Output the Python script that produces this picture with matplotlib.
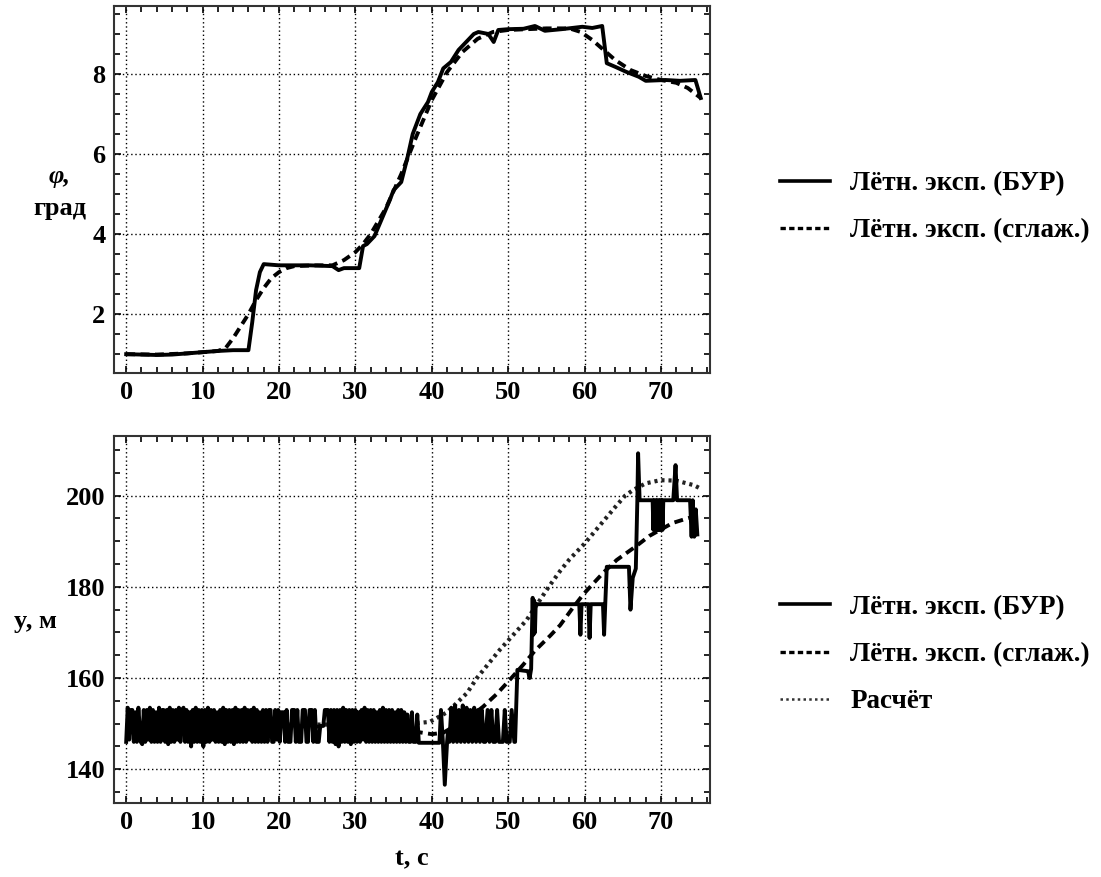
import matplotlib
matplotlib.use("Agg")
import matplotlib.pyplot as plt
from matplotlib.ticker import MultipleLocator
from matplotlib.lines import Line2D

plt.rcParams['font.family'] = ['Liberation Serif', 'DejaVu Serif']
plt.rcParams['font.weight'] = 'bold'

# ---------------- Data: top panel (phi, deg) ----------------
phi_bur_t = [0.0, 2.0, 4.0, 6.0, 8.0, 10.0, 12.0, 14.0, 16.0, 16.5, 17.0, 17.5, 18.0,
             20.0, 24.0, 27.0, 27.8, 28.5, 30.5, 31.0, 31.5, 32.5, 33.5, 34.5, 35.0,
             36.0, 36.8, 37.5, 38.5, 39.5, 40.0, 40.8, 41.5, 42.5, 43.5, 44.5, 45.5,
             46.1, 47.4, 48.1, 48.7, 50.0, 52.0, 53.5, 54.8, 57.0, 59.7, 61.0, 62.3,
             62.9, 64.0, 65.5, 67.1, 68.0, 70.6, 72.5, 74.5, 75.2]
phi_bur_v = [1.00, 0.99, 0.98, 0.99, 1.02, 1.05, 1.08, 1.10, 1.10, 1.80, 2.60, 3.05, 3.25,
             3.22, 3.22, 3.20, 3.10, 3.15, 3.15, 3.70, 3.75, 3.95, 4.40, 4.85, 5.10,
             5.30, 5.90, 6.50, 7.00, 7.30, 7.55, 7.80, 8.14, 8.30, 8.60, 8.80, 9.00,
             9.05, 9.00, 8.80, 9.10, 9.12, 9.13, 9.20, 9.08, 9.12, 9.18, 9.15, 9.20,
             8.27, 8.18, 8.05, 7.93, 7.83, 7.85, 7.83, 7.85, 7.40]

phi_smooth_t = [0.0, 4.0, 8.0, 12.0, 13.0, 14.0, 15.0, 16.0, 17.0, 18.0, 19.0, 20.0,
                21.0, 22.0, 25.0, 27.0, 28.5, 30.0, 31.0, 32.0, 34.0, 36.0, 38.0, 40.0,
                42.0, 44.0, 46.0, 48.0, 50.0, 55.0, 58.0, 59.5, 61.0, 62.5, 64.0, 66.0,
                68.0, 70.0, 72.0, 73.5, 75.2]
phi_smooth_v = [1.00, 0.99, 1.02, 1.08, 1.15, 1.40, 1.70, 2.00, 2.35, 2.65, 2.90, 3.05,
                3.15, 3.20, 3.22, 3.22, 3.35, 3.55, 3.75, 4.00, 4.65, 5.50, 6.45, 7.35,
                8.05, 8.55, 8.88, 9.05, 9.10, 9.14, 9.14, 9.05, 8.85, 8.60, 8.35, 8.10,
                7.95, 7.85, 7.78, 7.65, 7.40]

# ---------------- Data: bottom panel (y, m) ----------------
# BUR record, level-flight part (0 ... 38 s)
y_bur_t_early = [
    0.0, 0.2, 0.4, 0.6, 0.8, 1.0, 1.2, 1.4, 1.6, 1.9, 2.1, 2.3, 2.5, 2.7, 2.9, 3.1, 3.3, 3.5,
    3.7, 3.9, 4.1, 4.3, 4.5, 4.7, 4.9, 5.1, 5.3, 5.5, 5.7, 5.9, 6.1, 6.3, 6.5, 6.7, 6.9, 7.1,
    7.3, 7.5, 7.7, 7.9, 8.1, 8.3, 8.5, 8.7, 8.9, 9.1, 9.3, 9.5, 9.7, 9.9, 10.1, 10.3, 10.5,
    10.7, 10.9, 11.1, 11.3, 11.5, 11.7, 11.9, 12.1, 12.3, 12.5, 12.7, 12.9, 13.1, 13.3, 13.5,
    13.7, 13.9, 14.1, 14.3, 14.5, 14.7, 14.9, 15.1, 15.3, 15.5, 15.7, 15.9, 16.1, 16.3, 16.5,
    16.7, 16.9, 17.1, 17.3, 17.5, 17.7, 17.9, 18.1, 18.3, 18.5, 18.7, 18.9, 19.1, 19.3, 19.5,
    19.7, 19.9, 20.1, 20.3, 20.6, 20.8, 21.0, 21.2, 21.5, 21.7, 22.0, 22.2, 22.4, 22.6, 22.9,
    23.1, 23.4, 23.6, 23.8, 24.0, 24.3, 24.5, 24.7, 24.9, 25.2, 25.4, 25.8, 26.0, 26.4, 26.6,
    26.8, 27.0, 27.2, 27.4, 27.6, 27.8, 28.0, 28.2, 28.4, 28.6, 28.8, 29.0, 29.2, 29.4, 29.6,
    29.8, 30.0, 30.2, 30.4, 30.6, 30.8, 31.0, 31.2, 31.4, 31.6, 31.8, 32.0, 32.2, 32.4, 32.6,
    32.8, 33.0, 33.2, 33.4, 33.6, 33.8, 34.0, 34.2, 34.4, 34.6, 34.8, 35.0, 35.2, 35.4, 35.6,
    35.8, 36.0, 36.2, 36.4, 36.6, 36.8, 37.0, 37.2, 37.4, 37.6, 37.9, 38.1, 38.3]
y_bur_v_early = [
    146.0, 153.5, 146.5, 153.0, 153.0, 146.0, 152.5, 146.0, 153.5, 146.0, 145.5, 153.0, 146.0,
    153.0, 146.5, 153.5, 146.0, 153.0, 146.0, 152.5, 146.0, 153.5, 146.0, 153.0, 153.0, 146.0,
    153.0, 145.5, 153.5, 146.0, 153.0, 146.0, 153.0, 146.5, 153.5, 146.0, 153.0, 153.5, 146.0,
    153.0, 146.0, 152.5, 145.0, 153.0, 146.0, 153.5, 146.0, 153.0, 146.0, 153.0, 145.0, 153.0,
    146.0, 153.5, 146.0, 153.0, 146.5, 153.0, 146.0, 152.5, 146.0, 153.0, 146.0, 153.5, 145.5,
    153.0, 146.0, 153.0, 146.0, 153.0, 145.5, 153.5, 146.0, 153.0, 146.0, 153.0, 146.0, 153.5,
    146.0, 153.0, 146.5, 153.0, 146.0, 153.5, 146.0, 153.0, 146.0, 152.5, 146.0, 153.0, 146.0,
    153.0, 146.0, 153.0, 153.0, 146.0, 146.0, 153.0, 146.5, 153.0, 146.0, 152.5, 152.5, 146.0,
    153.0, 146.0, 146.0, 153.0, 153.0, 146.0, 153.0, 146.0, 146.0, 153.0, 153.0, 146.0, 146.0,
    153.0, 153.0, 146.0, 153.0, 146.0, 146.0, 149.5, 149.5, 153.0, 153.0, 146.0, 153.0, 146.0,
    153.0, 145.5, 153.0, 145.0, 153.0, 146.0, 153.5, 146.0, 153.0, 146.0, 153.0, 145.5, 153.0,
    146.0, 153.0, 146.0, 152.5, 146.0, 153.0, 146.5, 153.5, 146.0, 153.0, 146.0, 153.0, 146.0,
    153.0, 146.0, 152.5, 146.0, 153.0, 146.0, 153.5, 146.0, 153.0, 146.0, 153.0, 146.0, 153.0,
    146.0, 152.5, 146.0, 153.0, 146.0, 153.0, 146.0, 152.5, 146.0, 152.0, 146.0, 146.0, 152.5,
    146.0, 146.0, 152.0, 145.8]
# BUR record, climb part (38 ... 75 s)
y_bur_t_late = [
    41.0, 41.2, 41.45, 41.7, 42.0, 42.1, 42.3, 42.55, 42.8, 43.05, 43.3, 43.55, 43.8, 44.05,
    44.3, 44.55, 44.8, 45.05, 45.3, 45.55, 45.8, 46.05, 46.3, 46.55, 46.8, 47.0, 47.3, 47.55,
    47.8, 48.05, 48.3, 48.55, 48.8, 49.3, 49.55, 49.8, 50.2, 50.45, 50.8, 50.9, 51.2, 52.6,
    52.8, 53.0, 53.2, 53.3, 53.4, 53.5, 53.6, 59.3, 59.45, 59.6, 60.5, 60.65, 60.8, 62.4,
    62.55, 62.7, 62.9, 65.8, 66.0, 66.3, 66.7, 66.9, 67.0, 67.2, 68.9, 69.0, 69.1, 69.2,
    69.3, 69.4, 69.5, 69.6, 69.7, 69.8, 69.9, 70.0, 70.1, 70.2, 70.3, 70.4, 71.6, 71.9,
    72.1, 73.8, 74.0, 74.15, 74.35, 74.55, 74.75]
y_bur_v_late = [
    145.8, 153.0, 146.0, 136.6, 146.0, 148.0, 146.0, 153.5, 146.0, 154.0, 146.0, 153.0, 146.0,
    154.0, 146.0, 153.5, 146.0, 153.0, 146.0, 153.5, 146.0, 153.0, 146.0, 153.0, 146.0, 146.0,
    153.0, 146.0, 153.0, 146.0, 146.0, 153.0, 146.0, 146.0, 153.0, 146.0, 146.0, 153.0, 146.0,
    146.0, 161.8, 161.5, 160.0, 162.0, 177.6, 169.5, 177.0, 170.0, 176.2, 176.2, 169.5, 176.2,
    176.2, 168.8, 176.2, 176.2, 169.5, 176.2, 184.4, 184.4, 175.0, 182.0, 184.0, 199.0, 209.3,
    199.0, 199.0, 192.5, 199.0, 192.5, 199.0, 192.5, 199.0, 192.5, 199.0, 192.5, 199.0, 192.5,
    199.0, 192.5, 199.0, 199.0, 199.0, 206.7, 199.0, 199.0, 191.0, 199.0, 191.0, 197.0, 191.5]

y_smooth_t = [0.0, 10.0, 20.0, 30.0, 35.8, 38.0, 40.0, 41.5, 43.0, 45.0, 46.7, 48.5, 50.2,
              52.0, 53.5, 55.5, 56.8, 58.5, 59.8, 61.0, 62.5, 64.2, 66.8, 68.5, 69.9, 71.5,
              73.4, 74.3]
y_smooth_v = [149.5, 149.5, 149.5, 149.2, 148.6, 148.2, 147.7, 148.0, 149.5, 151.5, 153.7,
              156.5, 159.6, 163.0, 166.0, 169.3, 171.6, 175.5, 178.3, 180.5, 183.2, 185.9,
              189.0, 191.2, 192.5, 194.0, 195.0, 195.4]

y_calc_t = [0.0, 10.0, 20.0, 30.0, 37.0, 39.75, 42.0, 44.6, 45.9, 48.9, 52.4, 55.3, 56.8,
            58.0, 60.0, 62.0, 64.0, 65.3, 66.4, 68.0, 69.9, 72.0, 74.3, 75.0]
y_calc_v = [149.8, 149.8, 149.8, 149.8, 149.9, 150.4, 152.5, 156.7, 160.0, 166.2, 172.7,
            180.0, 183.5, 186.0, 189.5, 193.5, 197.5, 200.0, 201.3, 202.7, 203.4, 203.3,
            202.3, 201.7]

label_bur = 'Лётн. эксп. (БУР)'
label_smooth = 'Лётн. эксп. (сглаж.)'
label_calc = 'Расчёт'

# ---------------- Figure ----------------
fig = plt.figure(figsize=(11.01, 8.77), dpi=100)
ax1 = fig.add_axes([0.1035, 0.5747, 0.5413, 0.4185])
ax2 = fig.add_axes([0.1035, 0.0844, 0.5413, 0.4185])

lw = 2.8
for ax in (ax1, ax2):
    ax.set_xlim(-1.6, 76.4)
    ax.xaxis.set_major_locator(MultipleLocator(10))
    ax.xaxis.set_minor_locator(MultipleLocator(2))
    ax.grid(True, which='major', linestyle=(0, (1, 2)), color='black', linewidth=1.0)
    ax.tick_params(which='both', direction='in', top=True, right=True, labelsize=19,
                   width=1.2, colors='black')
    ax.tick_params(which='major', length=5, pad=6)
    ax.tick_params(which='minor', length=4)
    for s in ax.spines.values():
        s.set_linewidth(1.5)
        s.set_color('#333333')

ax1.set_ylim(0.53, 9.7)
ax1.yaxis.set_minor_locator(MultipleLocator(0.5))
ax1.set_yticks([2, 4, 6, 8])

ax2.set_ylim(132.6, 213.1)
ax2.yaxis.set_minor_locator(MultipleLocator(5))
ax2.set_yticks([140, 160, 180, 200])

dash = (0, (2.3, 1.4))
dot = (0, (0.75, 0.95))

ax1.plot(phi_bur_t, phi_bur_v, color='black', lw=lw, solid_joinstyle='round')
ax1.plot(phi_smooth_t, phi_smooth_v, color='black', lw=lw, linestyle=dash)

y_bur_t = y_bur_t_early + y_bur_t_late
y_bur_v = y_bur_v_early + y_bur_v_late
ax2.plot(y_calc_t, y_calc_v, color='#222222', lw=3.0, linestyle=dot)
ax2.plot(y_smooth_t, y_smooth_v, color='black', lw=lw, linestyle=dash)
ax2.plot(y_bur_t, y_bur_v, color='black', lw=lw, solid_joinstyle='round')

for ax in (ax1, ax2):
    for lab in ax.get_xticklabels() + ax.get_yticklabels():
        lab.set_fontweight('bold')

# legend proxies
p_bur = Line2D([], [], color='black', lw=2.6)
p_smooth = Line2D([], [], color='black', lw=2.4, linestyle=(0, (1.6, 1.0)))
p_calc = Line2D([], [], color='#333333', lw=1.8, linestyle=(0, (1.0, 1.3)))

leg_kw = dict(frameon=False, handlelength=1.85, handletextpad=0.74,
              labelspacing=0.82, borderaxespad=0, borderpad=0, loc='center left',
              prop={'weight': 'bold', 'size': 19.5})
fig.legend([p_bur, p_smooth], [label_bur, label_smooth], bbox_to_anchor=(0.7085, 0.7635), **leg_kw)
fig.legend([p_bur, p_smooth, p_calc], [label_bur, label_smooth, label_calc],
           bbox_to_anchor=(0.7085, 0.2535), **leg_kw)

fig.text(0.054, 0.799, 'φ,', fontsize=19, fontstyle='italic', fontweight='bold', ha='center', va='center')
fig.text(0.054, 0.762, 'град', fontsize=19, fontweight='bold', ha='center', va='center')
fig.text(0.032, 0.291, 'y, м', fontsize=19, fontweight='bold', ha='center', va='center')
fig.text(0.374, 0.021, 't, с', fontsize=19, fontweight='bold', ha='center', va='center')

fig.savefig('out.png', dpi=100)
